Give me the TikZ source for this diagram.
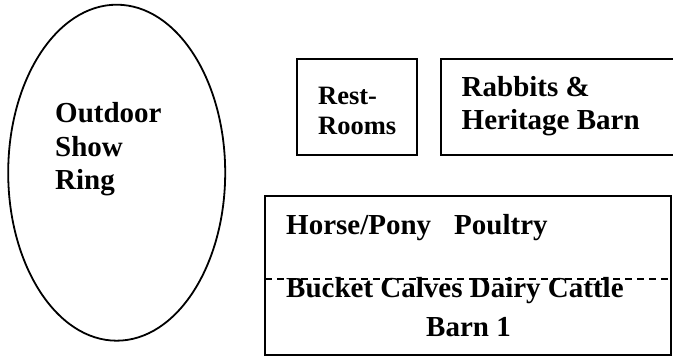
\documentclass[tikz,border=0pt]{standalone}
\usepackage{fontspec}
\setmainfont{Liberation Serif}
\usetikzlibrary{shapes.geometric}
\tikzset{
  outline/.style={draw=black, line width=1.8pt, inner sep=0pt},
  lbl/.style={inner sep=0pt, anchor=base west, align=left, font=\bfseries\fontsize{29}{33.5}\selectfont},
  smalllbl/.style={lbl, font=\bfseries\fontsize{26.5}{30}\selectfont},
  divider/.style={line width=1.2pt, dash pattern=on 7pt off 5pt}
}
\begin{document}
\begin{tikzpicture}[x=1pt,y=-1pt]
\useasboundingbox (0,0) rectangle (673,358);
\node[outline, ellipse, minimum width=217pt, minimum height=336pt] (ring) at (116.7,172.7) {};
\node[outline, rectangle, minimum width=120pt, minimum height=96pt] (rest) at (357,107) {};
\node[outline, rectangle, minimum width=239pt, minimum height=96pt] (rabbits) at (560.5,107) {};
\node[outline, rectangle, minimum width=406pt, minimum height=159pt] (barn) at (468,275.5) {};
\coordinate (dl) at (265,279);
\coordinate (dr) at (671,279);
\draw[divider] (dl) -- (dr);
\node[lbl] (ringtxt) at (55,190) {Outdoor\\Show\\Ring};
\node[smalllbl] (resttxt) at (318,135) {Rest-\\Rooms};
\node[lbl] (rabtxt) at (461.5,130) {Rabbits \&\\Heritage Barn};
\node[lbl] (horse) at (286,235) {Horse/Pony};
\node[lbl] (poultry) at (454,235) {Poultry};
\node[lbl] (bucket) at (286,298) {Bucket Calves Dairy Cattle};
\node[lbl] (barn1) at (426,337) {Barn 1};
\end{tikzpicture}
\end{document}
